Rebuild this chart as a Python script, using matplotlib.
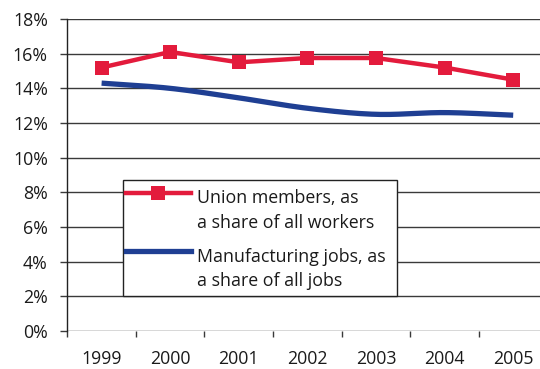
import numpy as np
import matplotlib
matplotlib.use("Agg")
import matplotlib.pyplot as plt
from matplotlib.patches import Rectangle
from matplotlib.lines import Line2D

plt.rcParams['font.family'] = ['Open Sans', 'DejaVu Sans']

years = ["1999", "2000", "2001", "2002", "2003", "2004", "2005"]
union_share = [15.2, 16.1, 15.5, 15.75, 15.75, 15.2, 14.5]
manufacturing_share = [14.3, 14.0, 13.45, 12.85, 12.5, 12.6, 12.45]
y_ticks = [0, 2, 4, 6, 8, 10, 12, 14, 16, 18]
legend_labels = [["Union members, as", "a share of all workers"],
                 ["Manufacturing jobs, as", "a share of all jobs"]]

RED = "#e31b3c"
BLUE = "#1f3f93"
GRID = "#3a3a3a"
TEXT = "#1a1a1a"

W, H = 540, 369
fig = plt.figure(figsize=(W / 100, H / 100), dpi=100)
ax = fig.add_axes([67.3 / W, (H - 331) / H, 7 * 68.6 / W, (331 - 19) / H])

x = np.arange(len(years))


def catmull_rom(xs, ys, n=30):
    """Smooth curve through the points (uniform Catmull-Rom spline)."""
    xs = np.asarray(xs, float)
    ys = np.asarray(ys, float)
    px_ = np.concatenate([[2 * xs[0] - xs[1]], xs, [2 * xs[-1] - xs[-2]]])
    py_ = np.concatenate([[2 * ys[0] - ys[1]], ys, [2 * ys[-1] - ys[-2]]])
    outx, outy = [], []
    t = np.linspace(0, 1, n, endpoint=False)
    for i in range(1, len(px_) - 2):
        for arr, out in ((px_, outx), (py_, outy)):
            p0, p1, p2, p3 = arr[i - 1], arr[i], arr[i + 1], arr[i + 2]
            out.extend(0.5 * ((2 * p1) + (-p0 + p2) * t
                              + (2 * p0 - 5 * p1 + 4 * p2 - p3) * t ** 2
                              + (-p0 + 3 * p1 - 3 * p2 + p3) * t ** 3))
    outx.append(xs[-1])
    outy.append(ys[-1])
    return np.array(outx), np.array(outy)


# gridlines
for v in y_ticks:
    ax.axhline(v, color=GRID, lw=1.0, zorder=1)

sx, sy = catmull_rom(x, manufacturing_share)
ax.plot(sx, sy, color=BLUE, lw=3.8, solid_capstyle='butt', zorder=3)
ax.plot(x, union_share, color=RED, lw=3.2, marker='s', markersize=10,
        markeredgewidth=0, solid_joinstyle='miter', zorder=4)

ax.set_xlim(-0.5, len(years) - 0.5)
ax.set_ylim(0, 18)
for s in ("top", "right", "bottom"):
    ax.spines[s].set_visible(False)
ax.spines["left"].set_color("#222222")
ax.spines["left"].set_linewidth(1.0)

ax.set_yticks(y_ticks)
ax.set_yticklabels([f"{v}%" for v in y_ticks])
ax.tick_params(axis='y', length=5, width=1, color=GRID, pad=9, labelsize=12.8,
               labelcolor=TEXT)

ax.set_xticks(np.arange(-0.5, len(years), 1.0))
ax.set_xticklabels([])
ax.tick_params(axis='x', which='major', length=4.5, width=1, color=GRID)
ax.set_xticks(x, minor=True)
ax.set_xticklabels(years, minor=True)
ax.tick_params(axis='x', which='minor', length=0, pad=14, labelsize=12.8,
               labelcolor=TEXT)


def px(xp, yp):
    """Pixel position (from top-left) to figure fraction."""
    return xp / W, (H - yp) / H


# legend box
bx0, by0 = px(122.7, 296)
bx1, by1 = px(397, 180)
fig.patches.append(Rectangle((bx0, by0), bx1 - bx0, by1 - by0,
                             transform=fig.transFigure, facecolor='white',
                             edgecolor='#222222', lw=1.0, zorder=5))

hx0, _ = px(125.7, 0)
hx1, _ = px(190.7, 0)
_, ry = px(0, 192.7)
_, by = px(0, 250.7)
fig.lines.append(Line2D([hx0, hx1], [ry, ry], transform=fig.transFigure,
                        color=RED, lw=3.2, zorder=6))
fig.lines.append(Line2D([(hx0 + hx1) / 2], [ry], transform=fig.transFigure,
                        color=RED, marker='s', markersize=10,
                        markeredgewidth=0, zorder=7))
fig.lines.append(Line2D([hx0, hx1], [by, by], transform=fig.transFigure,
                        color=BLUE, lw=3.8, zorder=6))

tx, _ = px(196.7, 0)
baselines = [(203, 228), (261.7, 286)]
for lines, ys in zip(legend_labels, baselines):
    for line, yb in zip(lines, ys):
        fig.text(tx, px(0, yb)[1], line, fontsize=12.8, color=TEXT,
                 va='baseline', ha='left', zorder=8)

fig.savefig("out.png", dpi=100)
